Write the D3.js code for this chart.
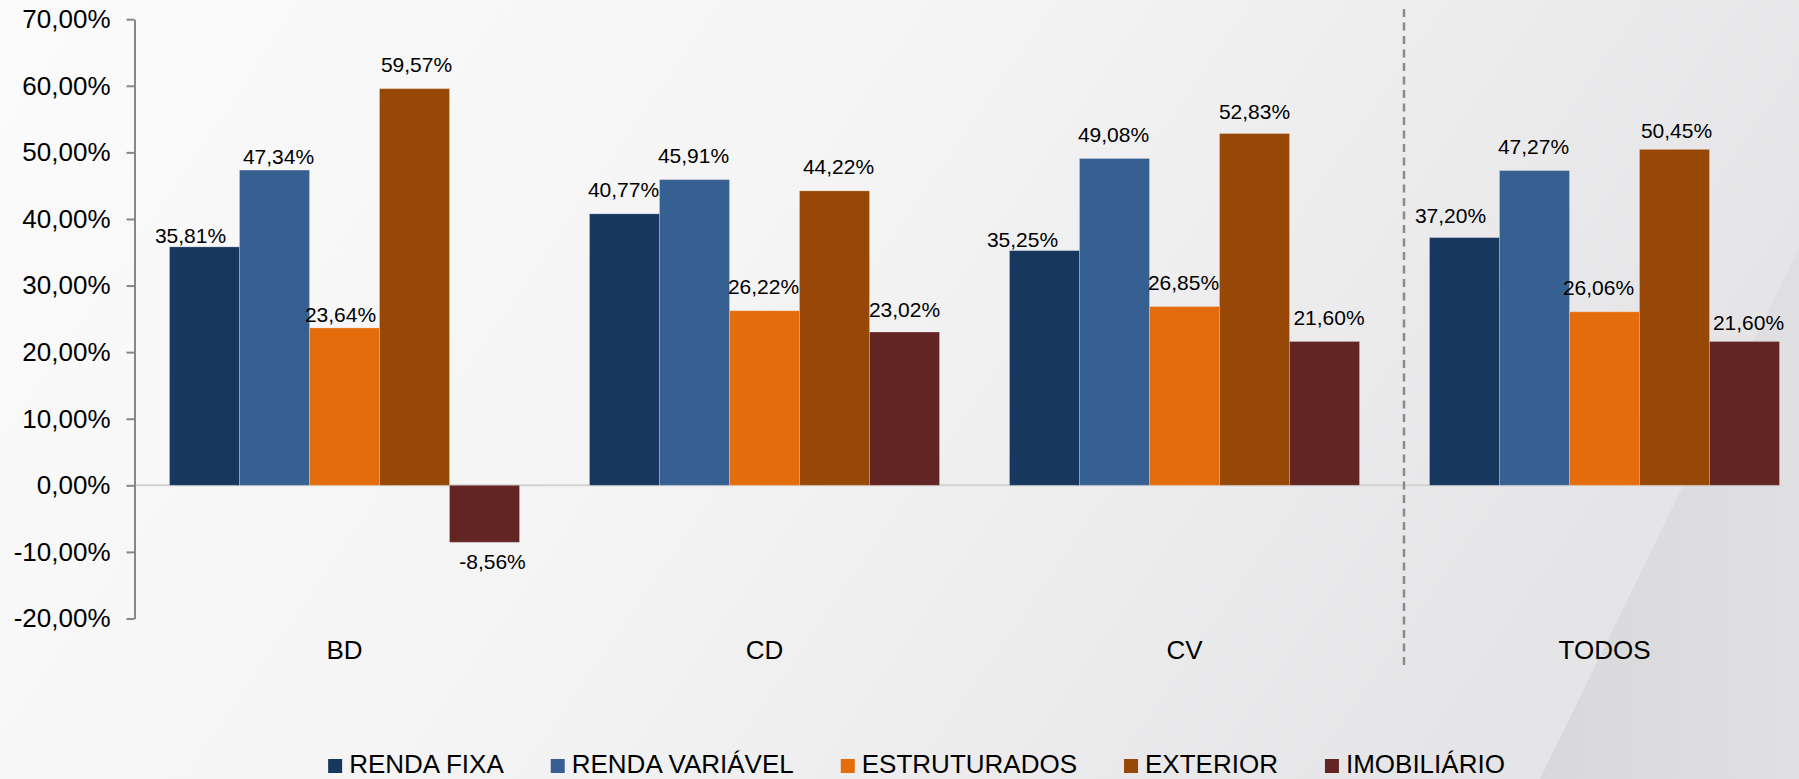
<!DOCTYPE html>
<html>
<head>
<meta charset="utf-8">
<script src="https://cdn.jsdelivr.net/npm/d3@7"></script>
<style>
  body { margin: 0; background: #fafafa; }
  svg { display: block; font-family: "Liberation Sans", Arial, sans-serif; }
</style>
</head>
<body>
<div id="chart"></div>
<script>
// categories and series
const categories = ["BD", "CD", "CV", "TODOS"];
const seriesNames = ["RENDA FIXA", "RENDA VARIÁVEL", "ESTRUTURADOS", "EXTERIOR", "IMOBILIÁRIO"];

// values in %, one array per series (BD, CD, CV, TODOS)
const rendaFixa     = [35.81, 40.77, 35.25, 37.20];
const rendaVariavel = [47.34, 45.91, 49.08, 47.27];
const estruturados  = [23.64, 26.22, 26.85, 26.06];
const exterior      = [59.57, 44.22, 52.83, 50.45];
const imobiliario   = [-8.56, 23.02, 21.60, 21.60];

const yTicks = [-20, -10, 0, 10, 20, 30, 40, 50, 60, 70];

const colors = ["#17375e", "#366092", "#e46c0a", "#974806", "#632523"];

// small hand nudges of the value labels, as in the original slide [dx, dy]
const labelNudge = {
  BD:    [[-14, 12.6], [4, 10.3], [-4, 10.7], [2, 0], [8, 0]],
  CD:    [[-1, -0.5], [-1, -0.5], [-1, 0], [4, 0], [0, 1.5]],
  CV:    [[-22, 13.3], [-1, 0], [-1, 0], [0, 2.3], [4.5, 0]],
  TODOS: [[-14, 2], [-1, 0], [-6, 0], [2, 5], [4, 5.3]]
};

const seriesValues = [rendaFixa, rendaVariavel, estruturados, exterior, imobiliario];

const W = 1799, H = 779;
const ptBR = d3.formatLocale({decimal: ",", thousands: ".", grouping: [3], currency: ["R$", ""], minus: "-"});
const fmt = v => ptBR.format(".2f")(v) + "%";

const svg = d3.select("#chart").append("svg")
    .attr("width", W)
    .attr("height", H);

// background
const defs = svg.append("defs");
const bg = defs.append("linearGradient").attr("id", "bg")
    .attr("x1", 0).attr("x2", 1).attr("y1", 0).attr("y2", 0.3);
bg.append("stop").attr("offset", "0%").attr("stop-color", "#fbfbfb");
bg.append("stop").attr("offset", "50%").attr("stop-color", "#f4f4f5");
bg.append("stop").attr("offset", "100%").attr("stop-color", "#e5e5e7");
const wedge = defs.append("linearGradient").attr("id", "wedge")
    .attr("x1", 0).attr("x2", 1).attr("y1", 0).attr("y2", 0);
wedge.append("stop").attr("offset", "0%").attr("stop-color", "#d8d8da");
wedge.append("stop").attr("offset", "100%").attr("stop-color", "#e0e0e2");

svg.append("rect").attr("width", W).attr("height", H).attr("fill", "url(#bg)");
svg.append("path")
    .attr("d", `M${W},248 L1540,${H} L${W},${H} Z`)
    .attr("fill", "url(#wedge)");

// scales
const y = d3.scaleLinear().domain([-20, 70]).range([618.5, 19.2]);
const x0 = d3.scaleBand().domain(categories).range([134.5, 134.5 + 4 * 420])
    .paddingInner(1 / 6).paddingOuter(1 / 12);
const x1 = d3.scaleBand().domain(d3.range(seriesNames.length)).range([0, x0.bandwidth()]);

// zero line
svg.append("line")
    .attr("x1", 134.5).attr("x2", x0("TODOS") + x0.bandwidth() + 1)
    .attr("y1", y(0)).attr("y2", y(0))
    .attr("stroke", "#d2d2d2").attr("stroke-width", 2);

// y axis
const yAxis = svg.append("g")
    .attr("transform", "translate(134.5,0)")
    .call(d3.axisLeft(y).tickValues(yTicks).tickFormat(fmt)
        .tickSize(8).tickSizeOuter(0).tickPadding(16));
yAxis.select(".domain").attr("stroke", "#878787").attr("stroke-width", 2);
yAxis.selectAll(".tick line").attr("stroke", "#878787").attr("stroke-width", 2);
yAxis.selectAll(".tick text")
    .attr("font-size", 26).attr("fill", "#000")
    .attr("font-family", "'Liberation Sans', Arial, sans-serif");

// bars
const rows = [];
categories.forEach((c, ci) => {
  seriesValues.forEach((vals, si) => rows.push({cat: c, s: si, v: vals[ci]}));
});

svg.append("g").selectAll("rect")
    .data(rows)
    .enter().append("rect")
    .attr("x", d => x0(d.cat) + x1(d.s))
    .attr("width", x1.bandwidth())
    .attr("y", d => y(Math.max(0, d.v)))
    .attr("height", d => Math.abs(y(d.v) - y(0)))
    .attr("fill", d => colors[d.s])
    .attr("stroke", "rgba(255,255,255,0.22)")
    .attr("stroke-width", 1);

// value labels
svg.append("g").selectAll("text")
    .data(rows)
    .enter().append("text")
    .attr("x", d => x0(d.cat) + x1(d.s) + x1.bandwidth() / 2 + labelNudge[d.cat][d.s][0])
    .attr("y", d => (d.v >= 0 ? y(d.v) - 16.5 : y(d.v) + 27) + labelNudge[d.cat][d.s][1])
    .attr("text-anchor", "middle")
    .attr("font-size", 21)
    .attr("fill", "#000")
    .text(d => fmt(d.v));

// category labels
svg.append("g").selectAll("text")
    .data(categories)
    .enter().append("text")
    .attr("x", d => x0(d) + x0.bandwidth() / 2)
    .attr("y", 659)
    .attr("text-anchor", "middle")
    .attr("font-size", 26)
    .attr("fill", "#000")
    .text(d => d);

// dashed separator before TODOS
svg.append("line")
    .attr("x1", x0("TODOS") - 25.5).attr("x2", x0("TODOS") - 25.5)
    .attr("y1", 9).attr("y2", 667)
    .attr("stroke", "#8a8a8a").attr("stroke-width", 2.5)
    .attr("stroke-dasharray", "8,5.5");

// legend
const legend = svg.append("g");
const gap = 47;
let lx = 0;
seriesNames.forEach((name, i) => {
  const item = legend.append("g").attr("transform", `translate(${lx},0)`);
  item.append("rect")
    .attr("x", 0).attr("y", 759).attr("width", 14).attr("height", 14)
    .attr("fill", colors[i]);
  const t = item.append("text")
    .attr("x", 21).attr("y", 773)
    .attr("font-size", 26).attr("fill", "#000")
    .text(name);
  lx += 21 + t.node().getComputedTextLength() + gap;
});
const legendW = lx - gap;
legend.attr("transform", `translate(${916.5 - legendW / 2},0)`);
</script>
</body>
</html>
